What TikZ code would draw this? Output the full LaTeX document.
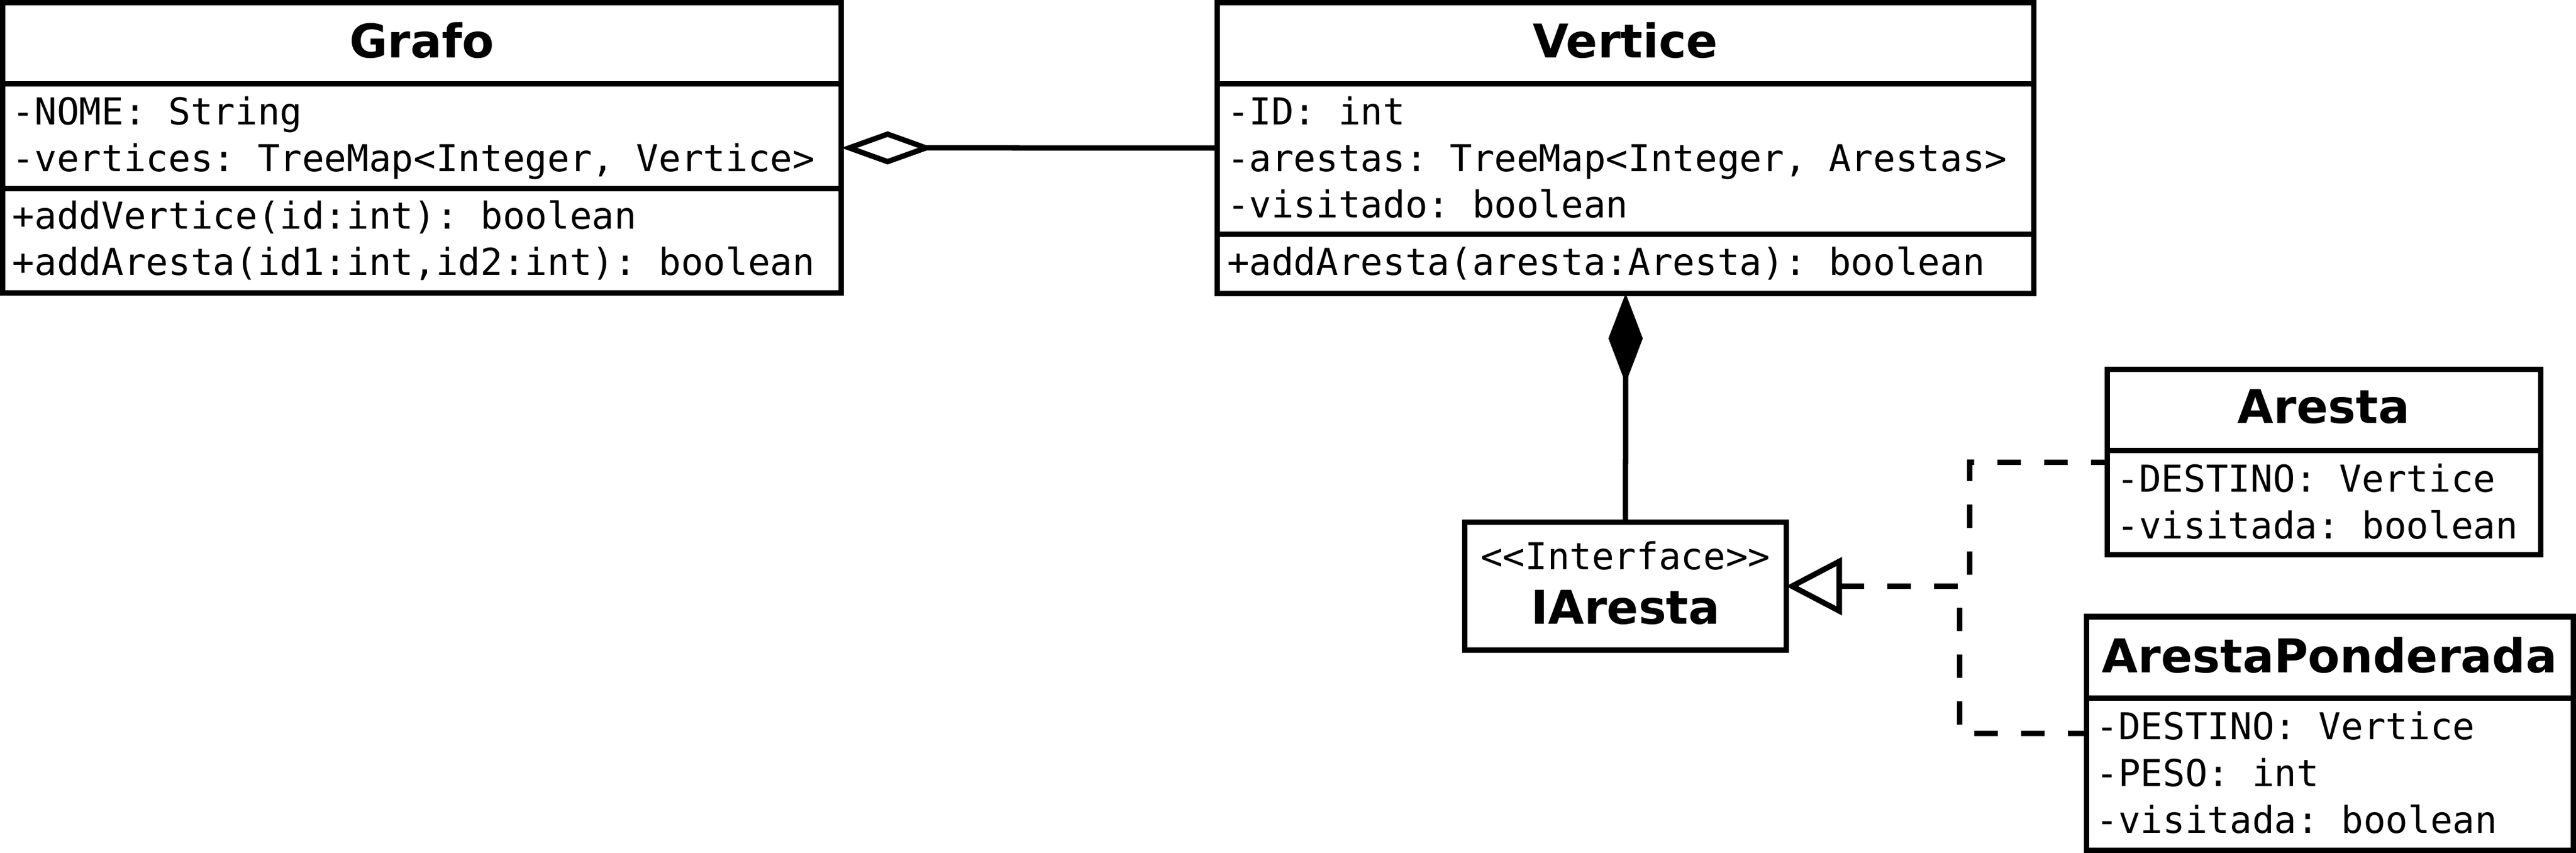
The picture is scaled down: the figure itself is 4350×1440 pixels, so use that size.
\documentclass[tikz,border=0pt]{standalone}
\usepackage{fontspec}
\setmainfont{DejaVu Sans}
\setsansfont{DejaVu Sans}
\setmonofont{DejaVu Sans Mono}
\usetikzlibrary{arrows.meta}
\begin{document}
\begin{tikzpicture}[x=0.01cm, y=-0.01cm,
  umlbox/.style={draw, line width=0.09cm, inner sep=0pt, outer sep=0pt, anchor=north west, fill=white},
  attr/.style={inner sep=0pt, outer sep=0pt, anchor=base west, font=\ttfamily\fontsize{17.78pt}{21pt}\selectfont},
  stereo/.style={inner sep=0pt, outer sep=0pt, anchor=base, font=\ttfamily\fontsize{17.78pt}{21pt}\selectfont},
  ttl/.style={inner sep=0pt, outer sep=0pt, anchor=base, font=\sffamily\bfseries\fontsize{22.34pt}{27pt}\selectfont},
  conn/.style={line width=0.09cm},
  dashconn/.style={conn, dash pattern=on 0.395cm off 0.395cm}]
\useasboundingbox (0,0) rectangle (4350,1440);

% ---------- Grafo ----------
\node[umlbox, minimum width=14.155cm, minimum height=4.9cm] (grafo) at (4.5,4.5) {};
\draw[conn] (4.5,142) -- (1420,142);
\draw[conn] (4.5,319) -- (1420,319);
\node[ttl] (grafoT) at (712.25,98) {Grafo};
\node[attr] (g1) at (21,211) {-NOME: String};
\node[attr] (g2) at (21,289.5) {-vertices: TreeMap<Integer, Vertice>};
\node[attr] (g3) at (21,387) {+addVertice(id:int): boolean};
\node[attr] (g4) at (21,465) {+addAresta(id1:int,id2:int): boolean};

% ---------- Vertice ----------
\node[umlbox, minimum width=13.785cm, minimum height=4.905cm] (vertice) at (2055.5,4.5) {};
\draw[conn] (2055.5,142) -- (3434,142);
\draw[conn] (2055.5,396) -- (3434,396);
\node[ttl] (verticeT) at (2744.75,98) {Vertice};
\node[attr] (v1) at (2072,211) {-ID: int};
\node[attr] (v2) at (2072,289.5) {-arestas: TreeMap<Integer, Arestas>};
\node[attr] (v3) at (2072,367.5) {-visitado: boolean};
\node[attr] (v4) at (2072,465) {+addAresta(aresta:Aresta): boolean};

% ---------- IAresta ----------
\node[umlbox, minimum width=5.425cm, minimum height=2.16cm] (iaresta) at (2473.5,881.5) {};
\node[stereo] (iaS) at (2744.75,961.5) {<<Interface>>};
\node[ttl] (iaT) at (2744.75,1053.5) {IAresta};

% ---------- Aresta ----------
\node[umlbox, minimum width=7.32cm, minimum height=3.125cm] (aresta) at (3558,624) {};
\draw[conn] (3558,761) -- (4290,761);
\node[ttl] (arestaT) at (3924,714.5) {Aresta};
\node[attr] (a1) at (3574.5,830.5) {-DESTINO: Vertice};
\node[attr] (a2) at (3574.5,909.5) {-visitada: boolean};

% ---------- ArestaPonderada ----------
\node[umlbox, minimum width=8.22cm, minimum height=3.94cm] (ap) at (3523,1041) {};
\draw[conn] (3523,1178.5) -- (4345,1178.5);
\node[ttl] (apT) at (3934,1135) {ArestaPonderada};
\node[attr] (p1) at (3539.5,1248) {-DESTINO: Vertice};
\node[attr] (p2) at (3539.5,1327) {-PESO: int};
\node[attr] (p3) at (3539.5,1406) {-visitada: boolean};

% ---------- connectors ----------
\draw[conn, {Diamond[open, length=1.56cm, width=0.56cm]}-] (grafo.east) -- (vertice.west);
\draw[conn, {Diamond[length=1.52cm, width=0.58cm]}-] (vertice.south) -- (iaresta.north);

\coordinate (jA) at (3326,780.25);
\coordinate (jB) at (3309,1238);
\draw[dashconn, {Triangle[open, length=0.94cm, width=0.96cm]}-] (iaresta.east) -| (jA) -- (aresta.west);
\draw[dashconn, {Triangle[open, length=0.94cm, width=0.96cm]}-] (iaresta.east) -| (jB) -- (ap.west);
\end{tikzpicture}
\end{document}
